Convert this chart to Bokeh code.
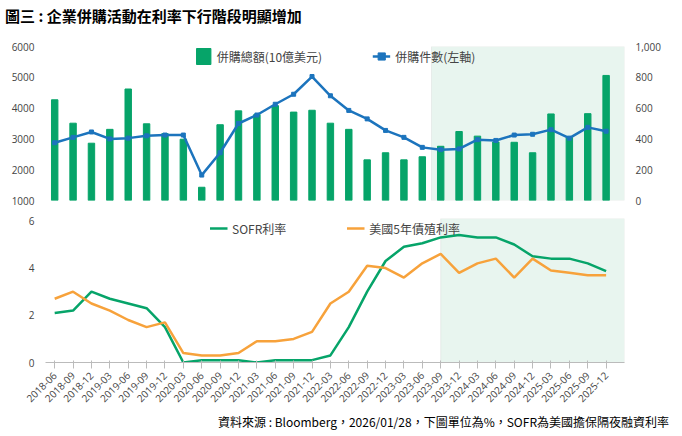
from bokeh.plotting import figure
from bokeh.models import Range1d, LinearAxis, Div, Legend, LegendItem, BoxAnnotation, NumeralTickFormatter, FixedTicker
from bokeh.layouts import column
from bokeh.embed import file_html
from bokeh.resources import INLINE

quarters = ["2018-06","2018-09","2018-12","2019-03","2019-06","2019-09","2019-12","2020-03","2020-06","2020-09","2020-12",
            "2021-03","2021-06","2021-09","2021-12","2022-03","2022-06","2022-09","2022-12","2023-03","2023-06","2023-09",
            "2023-12","2024-03","2024-06","2024-09","2024-12","2025-03","2025-06","2025-09","2025-12"]
ma_value = [4270,3510,2860,3310,4620,3490,3170,2990,1430,3460,3910,3790,4080,3870,3930,3510,3310,2320,2550,2320,2420,2760,
            3240,3090,2900,2890,2550,3810,3050,3820,5060]
ma_count = [375,410,445,400,405,420,425,425,165,310,500,555,625,690,805,680,585,530,455,410,345,330,335,395,390,425,430,460,405,475,450]
sofr = [2.1,2.2,3.0,2.7,2.5,2.3,1.5,0.0,0.1,0.1,0.1,0.0,0.1,0.1,0.1,0.3,1.5,3.0,4.3,4.9,5.05,5.3,5.4,5.3,5.3,5.0,4.5,4.4,4.4,4.2,3.87]
ust5 = [2.7,3.0,2.5,2.2,1.8,1.5,1.7,0.4,0.3,0.3,0.4,0.9,0.9,1.0,1.3,2.5,3.0,4.1,4.0,3.6,4.2,4.6,3.8,4.2,4.4,3.6,4.4,3.9,3.8,3.7,3.7]

x = list(range(len(quarters)))
FONT = "Noto Sans CJK TC"
GREEN = "#06a469"; BLUE = "#1c74bd"; ORANGE = "#f7a23b"; SHADE = "#e8f5ef"
W = 666

def style(p):
    p.toolbar_location = None
    p.outline_line_color = None
    p.xgrid.visible = False
    p.ygrid.visible = False
    p.background_fill_color = "white"
    p.border_fill_color = "white"

title = Div(text="<b>圖三 : 企業併購活動在利率下行階段明顯增加</b>", width=W, height=28,
            styles={"font-family": FONT, "font-size": "15px", "color": "#000"})

p1 = figure(width=W, height=172, output_backend="svg", toolbar_location=None,
            x_range=Range1d(-0.5, 31.0), y_range=Range1d(1000, 6000),
            min_border_left=45, min_border_right=42, min_border_top=8, min_border_bottom=10)
style(p1)
p1.add_layout(BoxAnnotation(left=20.5, right=31.0, fill_color=SHADE, fill_alpha=1, level="underlay"))
p1.extra_y_ranges = {"cnt": Range1d(0, 1000)}
bars = p1.vbar(x=x, top=ma_value, bottom=1000, width=0.35, color=GREEN)
ln = p1.line(x=x, y=ma_count, y_range_name="cnt", color=BLUE, line_width=2.5)
sc = p1.scatter(x=x, y=ma_count, y_range_name="cnt", color=BLUE, size=4, marker="square")
ax_r = LinearAxis(y_range_name="cnt", ticker=FixedTicker(ticks=[0,200,400,600,800,1000]),
                  formatter=NumeralTickFormatter(format="0,0"))
p1.add_layout(ax_r, "right")
p1.yaxis[0].ticker = FixedTicker(ticks=[1000,2000,3000,4000,5000,6000])
p1.xaxis.visible = False
for a in p1.yaxis:
    a.axis_line_color = None; a.major_tick_line_color = None; a.minor_tick_line_color = None
    a.major_label_text_font = "Open Sans"; a.major_label_text_font_size = "10px"; a.major_label_text_color = "#444"
leg1 = Legend(items=[LegendItem(label="併購總額(10億美元)", renderers=[bars]),
                     LegendItem(label="併購件數(左軸)", renderers=[ln, sc])],
              orientation="horizontal", location="top_center", background_fill_alpha=0, border_line_color=None,
              label_text_font=FONT, label_text_font_size="12px", spacing=50, glyph_width=18, margin=0, padding=0)
p1.add_layout(leg1)

p2 = figure(width=W, height=198, output_backend="svg", toolbar_location=None,
            x_range=Range1d(-0.5, 31.0), y_range=Range1d(0, 6.1),
            min_border_left=45, min_border_right=42, min_border_top=8, min_border_bottom=5)
style(p2)
p2.add_layout(BoxAnnotation(left=21, right=31.0, fill_color=SHADE, fill_alpha=1, level="underlay"))
l1 = p2.line(x=x, y=sofr, color=GREEN, line_width=2.5)
l2 = p2.line(x=x, y=ust5, color=ORANGE, line_width=2.5)
p2.yaxis.ticker = FixedTicker(ticks=[0,2,4,6])
p2.xaxis.ticker = FixedTicker(ticks=x)
p2.xaxis.major_label_overrides = {i: q for i, q in enumerate(quarters)}
p2.xaxis.major_label_orientation = 0.785
p2.xaxis.axis_line_color = "#bbb"
p2.xaxis.major_tick_line_color = "#bbb"
p2.xaxis.minor_tick_line_color = None
p2.yaxis.axis_line_color = None; p2.yaxis.major_tick_line_color = None; p2.yaxis.minor_tick_line_color = None
for a in [p2.xaxis[0], p2.yaxis[0]]:
    a.major_label_text_font = "Open Sans"; a.major_label_text_font_size = "10px"; a.major_label_text_color = "#444"
leg2 = Legend(items=[LegendItem(label="SOFR利率", renderers=[l1]), LegendItem(label="美國5年債殖利率", renderers=[l2])],
              orientation="horizontal", location="top_center", background_fill_alpha=0, border_line_color=None,
              label_text_font=FONT, label_text_font_size="12px", spacing=60, glyph_width=18, margin=0, padding=0)
p2.add_layout(leg2)

footer = Div(text="資料來源 : Bloomberg，2026/01/28，下圖單位為%，SOFR為美國擔保隔夜融資利率", width=W, height=20,
             styles={"font-family": FONT, "font-size": "12px", "color": "#000", "text-align": "right", "width": "100%", "padding-right": "12px"})

layout = column(title, p1, p2, footer, spacing=0)
open("out.html", "w").write(file_html(layout, INLINE))
